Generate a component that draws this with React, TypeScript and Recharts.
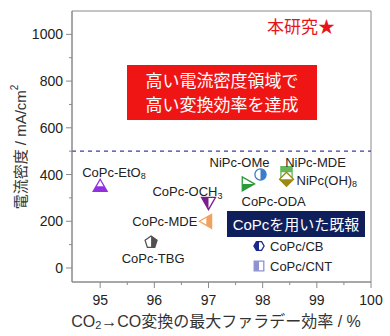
import React from 'react';
import { ScatterChart, Scatter, XAxis, YAxis, ReferenceLine, ReferenceArea } from 'recharts';

const names = ['CoPc-EtO_8', 'CoPc-TBG', 'CoPc-MDE', 'CoPc-OCH_3', 'CoPc-ODA', 'NiPc-OMe', 'NiPc-MDE', 'NiPc(OH)_8'];
const faradaic = [95.0, 95.94, 96.96, 97.0, 97.72, 97.96, 98.44, 98.44];
const currentDensity = [350, 110, 200, 280, 360, 400, 410, 380];
const xTicks = [95, 95.5, 96, 96.5, 97, 97.5, 98, 98.5, 99, 99.5, 100];
const yTicks = [0, 100, 200, 300, 400, 500, 600, 700, 800, 900, 1000];
const threshold = 500;

const FONT = '"Liberation Sans", Arial, "Noto Sans CJK JP", sans-serif';
const AXIS = '#8a8a8a';
const TXT = '#222';

type Shape = 'up' | 'down' | 'left' | 'right' | 'pent' | 'circle' | 'square' | 'diamond' | 'hex';
type Half = 'top' | 'bottom' | 'left' | 'right';

const markerStyle: Record<string, { shape: Shape; color: string; half: Half; dx: number; dy: number; anchor: 'start' | 'middle' | 'end' }> = {
  'CoPc-EtO_8': { shape: 'up', color: '#9030e0', half: 'bottom', dx: -18, dy: -14, anchor: 'start' },
  'CoPc-TBG': { shape: 'pent', color: '#505050', half: 'right', dx: 2, dy: 16, anchor: 'middle' },
  'CoPc-MDE': { shape: 'left', color: '#f2a160', half: 'right', dx: -9, dy: 0, anchor: 'end' },
  'CoPc-OCH_3': { shape: 'down', color: '#7a1d8c', half: 'left', dx: 14, dy: -11, anchor: 'end' },
  'CoPc-ODA': { shape: 'right', color: '#2a9a3a', half: 'bottom', dx: -6, dy: 18, anchor: 'start' },
  'NiPc-OMe': { shape: 'circle', color: '#3d7dc8', half: 'right', dx: -21, dy: -12, anchor: 'middle' },
  'NiPc-MDE': { shape: 'square', color: '#62b85a', half: 'top', dx: 29, dy: -10, anchor: 'middle' },
  'NiPc(OH)_8': { shape: 'diamond', color: '#9c8a16', half: 'bottom', dx: 10, dy: 1, anchor: 'start' },
};

const data = names.map((name, i) => ({ name, fe: faradaic[i], j: currentDensity[i] }));

const shapePath = (s: Shape, r: number) => {
  switch (s) {
    case 'up': return `M0,${-r} L${r},${r * 0.75} L${-r},${r * 0.75} Z`;
    case 'down': return `M0,${r} L${r},${-r * 0.75} L${-r},${-r * 0.75} Z`;
    case 'left': return `M${-r},0 L${r * 0.75},${-r} L${r * 0.75},${r} Z`;
    case 'right': return `M${r},0 L${-r * 0.75},${-r} L${-r * 0.75},${r} Z`;
    case 'square': return `M${-r * 0.8},${-r * 0.8} H${r * 0.8} V${r * 0.8} H${-r * 0.8} Z`;
    case 'diamond': return `M0,${-r} L${r},0 L0,${r} L${-r},0 Z`;
    case 'circle': return `M${-r * 0.8},0 A${r * 0.8},${r * 0.8} 0 1,0 ${r * 0.8},0 A${r * 0.8},${r * 0.8} 0 1,0 ${-r * 0.8},0 Z`;
    case 'pent': {
      const pts = [0, 1, 2, 3, 4].map(k => {
        const a = -Math.PI / 2 + (k * 2 * Math.PI) / 5;
        return `${(r * 0.9 * Math.cos(a)).toFixed(2)},${(r * 0.9 * Math.sin(a)).toFixed(2)}`;
      });
      return `M${pts.join(' L')} Z`;
    }
    case 'hex': {
      const pts = [0, 1, 2, 3, 4, 5].map(k => {
        const a = (k * Math.PI) / 3;
        return `${(r * 0.85 * Math.cos(a)).toFixed(2)},${(r * 0.85 * Math.sin(a)).toFixed(2)}`;
      });
      return `M${pts.join(' L')} Z`;
    }
  }
};

const halfRect = (h: Half, r: number) => {
  if (h === 'top') return { x: -r - 2, y: -r - 2, width: 2 * r + 4, height: r + 2 };
  if (h === 'bottom') return { x: -r - 2, y: 0, width: 2 * r + 4, height: r + 2 };
  if (h === 'left') return { x: -r - 2, y: -r - 2, width: r + 2, height: 2 * r + 4 };
  return { x: 0, y: -r - 2, width: r + 2, height: 2 * r + 4 };
};

const Marker = ({ x, y, shape, color, half, id, r = 7 }: { x: number; y: number; shape: Shape; color: string; half: Half; id: string; r?: number }) => {
  const d = shapePath(shape, r);
  return (
    <g transform={`translate(${x},${y})`}>
      <clipPath id={id}>
        <rect {...halfRect(half, r)} />
      </clipPath>
      <path d={d} fill="#fff" />
      <path d={d} fill={color} clipPath={`url(#${id})`} />
      <path d={d} fill="none" stroke={color} strokeWidth={1.3} />
    </g>
  );
};

const SubText = ({ x, y, text, anchor, size = 13 }: { x: number; y: number; text: string; anchor: string; size?: number }) => {
  const [main, sub] = text.split('_');
  return (
    <text x={x} y={y} textAnchor={anchor} dominantBaseline="central" fontSize={size} fill={TXT} fontFamily={FONT}>
      {main}
      {sub && <tspan dy={4} fontSize={9}>{sub}</tspan>}
    </text>
  );
};

const PointShape = (props: any) => {
  const { cx, cy, payload } = props;
  const st = markerStyle[payload.name];
  const id = 'clip-' + payload.name.replace(/[^a-zA-Z0-9]/g, '');
  return (
    <g>
      <Marker x={cx} y={cy} shape={st.shape} color={st.color} half={st.half} id={id} />
      <SubText x={cx + st.dx} y={cy + st.dy} text={payload.name} anchor={st.anchor} />
    </g>
  );
};

const XTick = (props: any) => {
  const { x, y, payload } = props;
  const major = Number.isInteger(payload.value);
  return (
    <g>
      <line x1={x} x2={x} y1={y} y2={y + (major ? 6 : 3)} stroke={AXIS} />
      {major && (
        <text x={x} y={y + 18} textAnchor="middle" dominantBaseline="central" fontSize={14} fill={TXT} fontFamily={FONT}>
          {payload.value}
        </text>
      )}
    </g>
  );
};

const YTick = (props: any) => {
  const { x, y, payload } = props;
  const major = payload.value % 200 === 0;
  return (
    <g>
      <line x1={x} x2={x - (major ? 6 : 3)} y1={y} y2={y} stroke={AXIS} />
      {major && (
        <text x={x - 9} y={y} textAnchor="end" dominantBaseline="central" fontSize={14} fill={TXT} fontFamily={FONT}>
          {payload.value}
        </text>
      )}
    </g>
  );
};

export default function App() {
  return (
    <div style={{ position: 'absolute', left: 0, top: 0, width: 390, height: 336, background: '#fff' }}>
      <ScatterChart width={390} height={336} margin={{ top: 11, right: 19, bottom: 24, left: 0 }}>
        <XAxis
          type="number"
          dataKey="fe"
          domain={[94.48, 100]}
          ticks={xTicks}
          interval={0}
          allowDataOverflow
          tickSize={0}
          tickMargin={0}
          tickLine={false}
          axisLine={{ stroke: AXIS }}
          tick={<XTick />}
          height={30}
        />
        <YAxis
          type="number"
          dataKey="j"
          domain={[-60, 1100]}
          ticks={yTicks}
          interval={0}
          allowDataOverflow
          tickSize={0}
          tickMargin={0}
          tickLine={false}
          axisLine={{ stroke: AXIS }}
          tick={<YTick />}
          width={72}
        />
        <ReferenceArea x1={94.48} x2={100} y1={-60} y2={1100} fill="none" stroke={AXIS} ifOverflow="visible" />
        <ReferenceLine y={threshold} stroke="#3a3fa8" strokeDasharray="4 4" strokeWidth={1.2} />
        <Scatter data={data} shape={<PointShape />} isAnimationActive={false} />
      </ScatterChart>

      <svg width={390} height={336} style={{ position: 'absolute', left: 0, top: 0, pointerEvents: 'none' }}>
        <text x={267} y={27} dominantBaseline="central" fontSize={17} fill="#e8141c" fontFamily={FONT}>本研究★</text>

        <rect x={127} y={65} width={190} height={55} fill="#f01515" />
        <text x={222} y={81} textAnchor="middle" dominantBaseline="central" fontSize={17} fill="#fff" fontFamily={FONT}>高い電流密度領域で</text>
        <text x={222} y={105} textAnchor="middle" dominantBaseline="central" fontSize={17} fill="#fff" fontFamily={FONT}>高い変換効率を達成</text>

        <rect x={227} y={211} width={138} height={26} fill="#0f1f5c" />
        <text x={296} y={224} textAnchor="middle" dominantBaseline="central" fontSize={15} fill="#fff" fontFamily={FONT}>CoPcを用いた既報</text>

        <Marker x={259} y={246} shape="hex" color="#1a2a8a" half="left" id="clip-cb" r={6} />
        <SubText x={270} y={246} text="CoPc/CB" anchor="start" />
        <Marker x={259} y={266} shape="square" color="#8e92d0" half="left" id="clip-cnt" r={6} />
        <SubText x={270} y={266} text="CoPc/CNT" anchor="start" />

        <text transform="translate(20,147) rotate(-90)" textAnchor="middle" dominantBaseline="central" fontSize={15} fill="#333" fontFamily={FONT}>
          電流密度 / mA/cm<tspan dy={-6} fontSize={10}>2</tspan>
        </text>

        <text x={216} y={321} textAnchor="middle" dominantBaseline="central" fontSize={16} fill="#333" fontFamily={FONT}>
          CO<tspan dy={4} fontSize={11}>2</tspan><tspan dy={-4}>→CO変換の最大ファラデー効率 / %</tspan>
        </text>
      </svg>
    </div>
  );
}
